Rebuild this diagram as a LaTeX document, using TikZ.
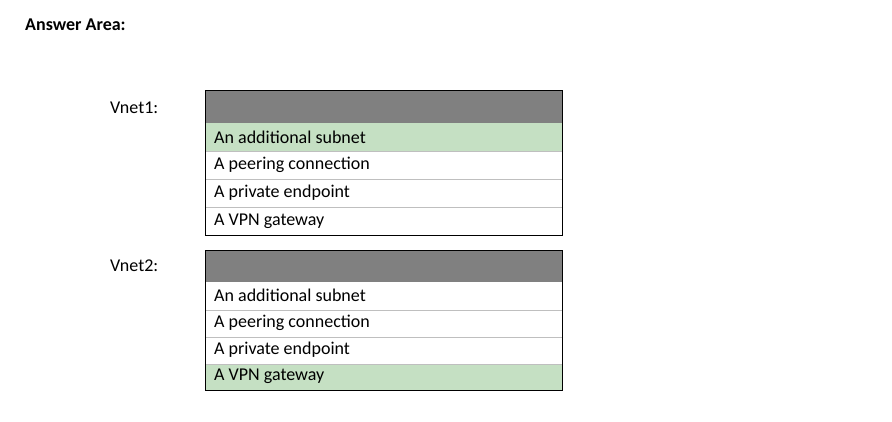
\documentclass[tikz,border=0pt]{standalone}
\usepackage{fontspec}
\setmainfont{Carlito}
\definecolor{headgray}{HTML}{808080}
\definecolor{pickgreen}{HTML}{C5E0C3}
\tikzset{
  option/.style={anchor=west, inner sep=0pt, font=\fontsize{18}{20}\selectfont},
  vlabel/.style={anchor=west, inner sep=0pt, font=\fontsize{18}{20}\selectfont},
}
\begin{document}
\begin{tikzpicture}[x=1pt,y=-1pt]
\useasboundingbox (0,0) rectangle (892,421);

\node[anchor=west, inner sep=0pt, font=\bfseries\fontsize{18}{20}\selectfont] (title) at (25,25) {Answer Area:};

% Vnet1
\node[vlabel] (vnet1) at (110,108) {Vnet1:};
\fill[headgray] (205,90) rectangle (562,123);
\fill[pickgreen] (205,123) rectangle (562,151);
\foreach \y in {151,179,207}
  \draw[gray!50] (205,\y) -- (562,\y);
\draw (205,90) rectangle (562,235);
\foreach \t [count=\i] in {An additional subnet,A peering connection,A private endpoint,A VPN gateway}
  \node[option] (a\i) at (214,{123+28*\i-14}) {\t};

% Vnet2
\node[vlabel] (vnet2) at (110,266) {Vnet2:};
\fill[headgray] (205,250) rectangle (562,282);
\fill[pickgreen] (205,364) rectangle (562,390);
\foreach \y in {310,337,364}
  \draw[gray!50] (205,\y) -- (562,\y);
\draw (205,250) rectangle (562,390);
\foreach \t [count=\i] in {An additional subnet,A peering connection,A private endpoint,A VPN gateway}
  \node[option] (b\i) at (214,{282+27*\i-13.5}) {\t};

\end{tikzpicture}
\end{document}
